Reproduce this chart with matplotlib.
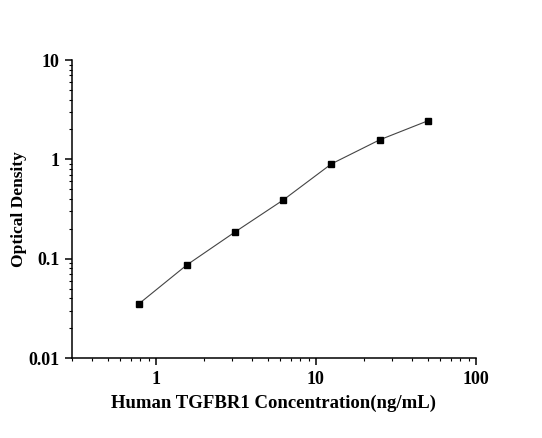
import matplotlib
matplotlib.use('Agg')
import matplotlib.pyplot as plt
from matplotlib.ticker import LogLocator, FixedLocator, FixedFormatter, NullFormatter

# Datos de la curva estándar
concentracion = [0.78, 1.56, 3.125, 6.25, 12.5, 25, 50]
densidad = [0.035, 0.0865, 0.186, 0.39, 0.90, 1.57, 2.44]

x_ticks = [1, 10, 100]
x_labels = ['1', '10', '100']
y_ticks = [0.01, 0.1, 1, 10]
y_labels = ['0.01', '0.1', '1', '10']

plt.rcParams['font.family'] = ['Liberation Serif', 'DejaVu Serif']

fig = plt.figure(figsize=(5.42, 4.38), dpi=100)
ax = fig.add_axes([0.1328, 0.1826, 0.878 - 0.1328, 0.863 - 0.1826])

ax.plot(concentracion, densidad, color='#444444', linewidth=0.8, zorder=1)
ax.plot(concentracion, densidad, linestyle='none', marker='s', markersize=5,
        color='black', zorder=2)

ax.set_xscale('log')
ax.set_yscale('log')
ax.set_xlim(0.2985, 100)
ax.set_ylim(0.01, 10)

ax.xaxis.set_major_locator(FixedLocator(x_ticks))
ax.xaxis.set_major_formatter(FixedFormatter(x_labels))
ax.yaxis.set_major_locator(FixedLocator(y_ticks))
ax.yaxis.set_major_formatter(FixedFormatter(y_labels))
ax.xaxis.set_minor_locator(LogLocator(base=10, subs=range(2, 10), numticks=20))
ax.yaxis.set_minor_locator(LogLocator(base=10, subs=range(2, 10), numticks=20))
ax.xaxis.set_minor_formatter(NullFormatter())
ax.yaxis.set_minor_formatter(NullFormatter())

for lado in ['top', 'right']:
    ax.spines[lado].set_visible(False)
for lado in ['left', 'bottom']:
    ax.spines[lado].set_linewidth(1.1)

ax.tick_params(which='major', direction='out', length=5, width=1.1,
               labelsize=13, pad=4)
ax.tick_params(which='minor', direction='out', length=2.5, width=0.8)
for lbl in ax.get_xticklabels() + ax.get_yticklabels():
    lbl.set_fontweight('bold')

ax.set_xlabel('Human TGFBR1 Concentration(ng/mL)', fontsize=13.5,
              fontweight='bold', labelpad=5)
ax.set_ylabel('Optical Density', fontsize=12.5, fontweight='bold', labelpad=1)

fig.savefig('out.png', dpi=100)
